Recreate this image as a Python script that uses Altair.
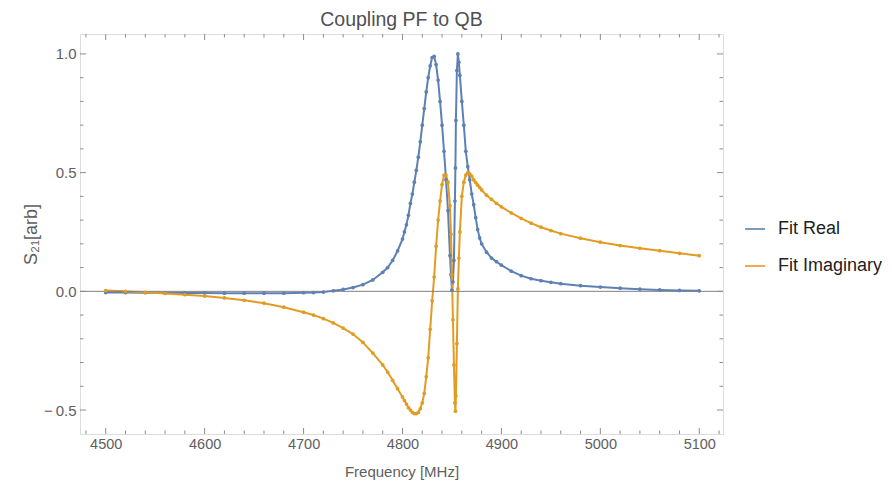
import altair as alt
import pandas as pd

# ---- data ----
freq = [4500, 4520, 4540, 4560, 4580, 4600, 4620, 4640, 4660, 4680,
        4700, 4710, 4720, 4730, 4740, 4750, 4760, 4770, 4780, 4785,
        4790, 4795, 4800, 4802, 4804, 4806, 4808, 4810, 4812, 4814,
        4816, 4818, 4820, 4822, 4824, 4826, 4828, 4830, 4832, 4834,
        4836, 4838, 4840, 4842, 4844, 4846, 4848, 4849, 4850, 4851,
        4852, 4853, 4853.5, 4854, 4855, 4856, 4857, 4858, 4860, 4862,
        4864, 4866, 4868, 4870, 4872, 4874, 4876, 4878, 4880, 4885,
        4890, 4895, 4900, 4910, 4920, 4930, 4940, 4950, 4960, 4980,
        5000, 5020, 5040, 5060, 5080, 5100]

fit_real = [-0.005, -0.005, -0.006, -0.006, -0.007, -0.007, -0.008, -0.008, -0.008, -0.008,
            -0.006, -0.005, -0.003, 0.002, 0.008, 0.016, 0.028, 0.048, 0.08, 0.10,
            0.13, 0.17, 0.22, 0.25, 0.28, 0.32, 0.37, 0.41, 0.46, 0.51,
            0.565, 0.63, 0.70, 0.77, 0.84, 0.90, 0.95, 0.985, 0.99, 0.955,
            0.89, 0.80, 0.70, 0.59, 0.47, 0.34, 0.15, 0.07, 0.005, 0.04,
            0.13, 0.38, 0.52, 0.72, 0.93, 1.0, 0.965, 0.91, 0.80, 0.70,
            0.59, 0.525, 0.47, 0.41, 0.365, 0.31, 0.26, 0.225, 0.20, 0.165,
            0.14, 0.125, 0.11, 0.085, 0.066, 0.053, 0.045, 0.038, 0.032, 0.024,
            0.018, 0.013, 0.009, 0.006, 0.004, 0.002]

fit_imag = [0.003, 0.0, -0.004, -0.009, -0.014, -0.02, -0.028, -0.038, -0.05, -0.067,
            -0.088, -0.10, -0.115, -0.133, -0.155, -0.18, -0.215, -0.26, -0.31, -0.34,
            -0.375, -0.41, -0.445, -0.46, -0.475, -0.49, -0.50, -0.51, -0.515, -0.515,
            -0.51, -0.495, -0.47, -0.43, -0.36, -0.28, -0.16, -0.04, 0.06, 0.19,
            0.30, 0.38, 0.45, 0.49, 0.49, 0.46, 0.36, 0.24, 0.07, -0.12,
            -0.31, -0.47, -0.505, -0.44, -0.22, 0.01, 0.14, 0.25, 0.40, 0.46,
            0.49, 0.50, 0.495, 0.485, 0.47, 0.458, 0.447, 0.437, 0.427, 0.405,
            0.387, 0.371, 0.356, 0.33, 0.307, 0.287, 0.27, 0.256, 0.243, 0.224,
            0.207, 0.193, 0.181, 0.171, 0.16, 0.15]

series_names = ["Fit Real", "Fit Imaginary"]
series_colors = ["#5E81B5", "#E19C24"]

x_major = [4500, 4600, 4700, 4800, 4900, 5000, 5100]
x_minor = [4480, 4520, 4540, 4560, 4580, 4620, 4640, 4660, 4680, 4720, 4740,
           4760, 4780, 4820, 4840, 4860, 4880, 4920, 4940, 4960, 4980, 5020,
           5040, 5060, 5080, 5120]
y_major = [-0.5, 0.0, 0.5, 1.0]
y_minor = [-0.4, -0.3, -0.2, -0.1, 0.1, 0.2, 0.3, 0.4, 0.6, 0.7, 0.8, 0.9]
zero_level = [0.0]

# ---- layout ----
W, H = 643, 400
FONT = "Liberation Sans"
GRAY = "#606060"
FRAME = "#8c8c8c"

n = len(freq)
df = pd.DataFrame({
    "Frequency": freq + freq,
    "value": fit_real + fit_imag,
    "series": [series_names[0]] * n + [series_names[1]] * n,
})

xscale = alt.Scale(domain=[4474, 5124], nice=False, zero=False)
yscale = alt.Scale(domain=[-0.601, 1.084], nice=False, zero=False)
cscale = alt.Scale(domain=series_names, range=series_colors)

x_axis = alt.Axis(values=x_major, format="d", ticks=False, tickSize=0, domain=False,
                  grid=False, labelPadding=3, labelFontSize=14.5, labelColor=GRAY,
                  labelFont=FONT, title="Frequency [MHz]", titleFont=FONT,
                  titleFontSize=15, titleColor=GRAY, titleFontWeight="normal",
                  titlePadding=14)
y_axis = alt.Axis(values=y_major, ticks=False, tickSize=0, domain=False,
                  labelExpr="datum.value < 0 ? '−\u2009' + format(-datum.value, '.1f') : format(datum.value, '.1f')",
                  grid=False, labelPadding=4, labelFontSize=15, labelColor=GRAY,
                  labelFont=FONT, title="S₂₁[arb]", titleFont=FONT,
                  titleFontSize=18, titleColor=GRAY, titleFontWeight="normal",
                  titlePadding=3)

zero = alt.Chart(pd.DataFrame({"z": zero_level})).mark_rule(
    color="#808080", strokeWidth=1
).encode(y=alt.Y("z:Q", scale=yscale, axis=y_axis))

lines = alt.Chart(df).mark_line(strokeWidth=2).encode(
    x=alt.X("Frequency:Q", scale=xscale, axis=x_axis),
    y=alt.Y("value:Q", scale=yscale, axis=y_axis),
    color=alt.Color(
        "series:N", scale=cscale, sort=series_names,
        legend=alt.Legend(title=None, orient="none", legendX=664, legendY=184,
                          symbolType="stroke", symbolSize=400, symbolStrokeWidth=1.6,
                          labelFontSize=18, labelFont=FONT, labelColor="#222222",
                          rowPadding=17, labelOffset=12, padding=0),
    ),
    detail="series:N",
)
points = alt.Chart(df).mark_circle(size=14, opacity=1).encode(
    x=alt.X("Frequency:Q", scale=xscale, axis=x_axis),
    y=alt.Y("value:Q", scale=yscale, axis=y_axis),
    color=alt.Color("series:N", scale=cscale, legend=None),
)


def xticks(vals, length):
    d = pd.DataFrame({"Frequency": vals})
    bottom = alt.Chart(d).mark_rule(color=FRAME, strokeWidth=1).encode(
        x=alt.X("Frequency:Q", scale=xscale, axis=x_axis), y=alt.value(H), y2=alt.value(H - length))
    top = alt.Chart(d).mark_rule(color=FRAME, strokeWidth=1).encode(
        x=alt.X("Frequency:Q", scale=xscale, axis=x_axis), y=alt.value(0), y2=alt.value(length))
    return [bottom, top]


def yticks(vals, length):
    d = pd.DataFrame({"value": vals})
    left = alt.Chart(d).mark_rule(color=FRAME, strokeWidth=1).encode(
        y=alt.Y("value:Q", scale=yscale, axis=y_axis), x=alt.value(0), x2=alt.value(length))
    right = alt.Chart(d).mark_rule(color=FRAME, strokeWidth=1).encode(
        y=alt.Y("value:Q", scale=yscale, axis=y_axis), x=alt.value(W), x2=alt.value(W - length))
    return [left, right]


tick_layers = xticks(x_major, 6) + xticks(x_minor, 3.5) + yticks(y_major, 6) + yticks(y_minor, 3.5)

chart = alt.layer(lines, zero, *tick_layers, points).properties(
    width=W, height=H,
    title=alt.Title("Coupling PF to QB", font=FONT, fontSize=19.5, fontWeight="normal",
                    color="#505050", anchor="middle", offset=3),
    autosize=alt.AutoSizeParams(type="none"),
    padding={"left": 72, "top": 26, "right": 161, "bottom": 53},
).configure_view(stroke=FRAME, strokeWidth=1).configure(background="white")

chart.save("out.html", embed_options={"renderer": "svg", "actions": False})
